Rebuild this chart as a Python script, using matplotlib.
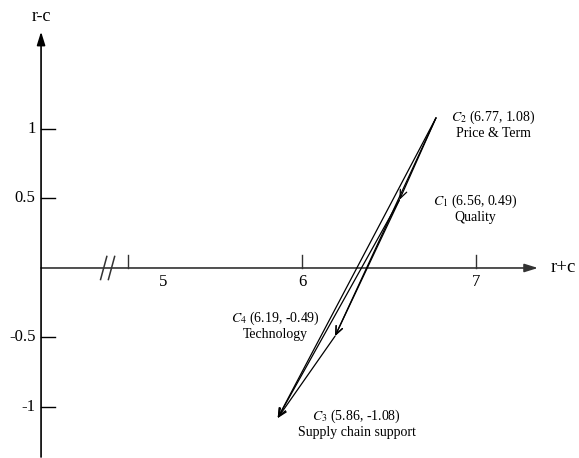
import matplotlib
matplotlib.use('Agg')
import matplotlib.pyplot as plt

plt.rcParams['font.family'] = ['Liberation Serif', 'DejaVu Serif']
plt.rcParams['mathtext.fontset'] = 'stix'
plt.rcParams['font.size'] = 10

# Criteria: (r+c, r-c)
names = ['C1', 'C2', 'C3', 'C4']
subs = ['1', '2', '3', '4']
x_vals = [6.56, 6.77, 5.86, 6.19]
y_vals = [0.49, 1.08, -1.08, -0.49]
desc = ['Quality', 'Price & Term', 'Supply chain support', 'Technology']

# influence relations (source -> target)
edges = [('C2', 'C1'), ('C2', 'C4'), ('C2', 'C3'),
         ('C1', 'C4'), ('C1', 'C3'), ('C4', 'C3')]

x_ticks = [5, 6, 7]
y_ticks = [1, 0.5, -0.5, -1]
y_tick_labels = ['1', '0.5', '-0.5', '-1']

fig = plt.figure(figsize=(5.79, 4.58), dpi=100)
ax = fig.add_axes([0, 0, 1, 1])
ax.set_xlim(4.264, 7.592)
ax.set_ylim(-1.367, 1.928)
ax.axis('off')

x0 = 4.5  # where the vertical axis sits

# axes with arrow heads
ax.annotate('', xy=(7.356, 0), xytext=(x0, 0),
            arrowprops=dict(arrowstyle='-|>,head_length=0.8,head_width=0.25',
                            color='#333333', lw=1.2, shrinkA=0, shrinkB=0))
ax.annotate('', xy=(x0, 1.70), xytext=(x0, -1.36),
            arrowprops=dict(arrowstyle='-|>,head_length=0.8,head_width=0.25',
                            color='black', lw=1.2, shrinkA=0, shrinkB=0))
ax.text(x0, 1.81, 'r-c', ha='center', va='center', fontsize=13)
ax.text(7.43, 0, 'r+c', ha='left', va='center', fontsize=13.5)

# ticks
for t in x_ticks:
    ax.plot([t, t], [0, 0.094], color='#333333', lw=1)
for t in x_ticks:
    dx = 25 if t == 5 else 0
    ax.annotate(str(t), xy=(t, 0), xytext=(dx, -10), textcoords='offset points',
                ha='center', va='center', fontsize=12)
for t, lab in zip(y_ticks, y_tick_labels):
    ax.plot([x0, x0 + 0.08], [t, t], color='black', lw=1)
    ax.annotate(lab, xy=(x0, t), xytext=(-4, 0), textcoords='offset points',
                ha='right', va='center', fontsize=12)

# axis break marks
for bx in [4.86, 4.905]:
    ax.plot([bx - 0.018, bx + 0.018], [-0.083, 0.083], color='#333333', lw=1.1)

# relation arrows
pos = {n: (x, y) for n, x, y in zip(names, x_vals, y_vals)}
for a, b in edges:
    ax.annotate('', xy=pos[b], xytext=pos[a],
                arrowprops=dict(arrowstyle='->,head_length=0.6,head_width=0.25',
                                color='black', lw=0.9, shrinkA=0, shrinkB=0))

# point labels: (dx, dy in points, ha)
label_offsets = {'C1': (24, -6, 'left'), 'C2': (11, -5, 'left'),
                 'C3': (57, -4, 'center'), 'C4': (-11, 8, 'right')}
for n, s, x, y, d in zip(names, subs, x_vals, y_vals, desc):
    dx, dy, ha = label_offsets[n]
    txt = r'$C_{%s}$ (%.2f, %.2f)' % (s, x, y) + '\n' + d
    ax.annotate(txt, xy=(x, y), xytext=(dx, dy), textcoords='offset points',
                ha=ha, va='center', multialignment='center', fontsize=10,
                linespacing=1.1)

fig.savefig('out.png', dpi=100)
